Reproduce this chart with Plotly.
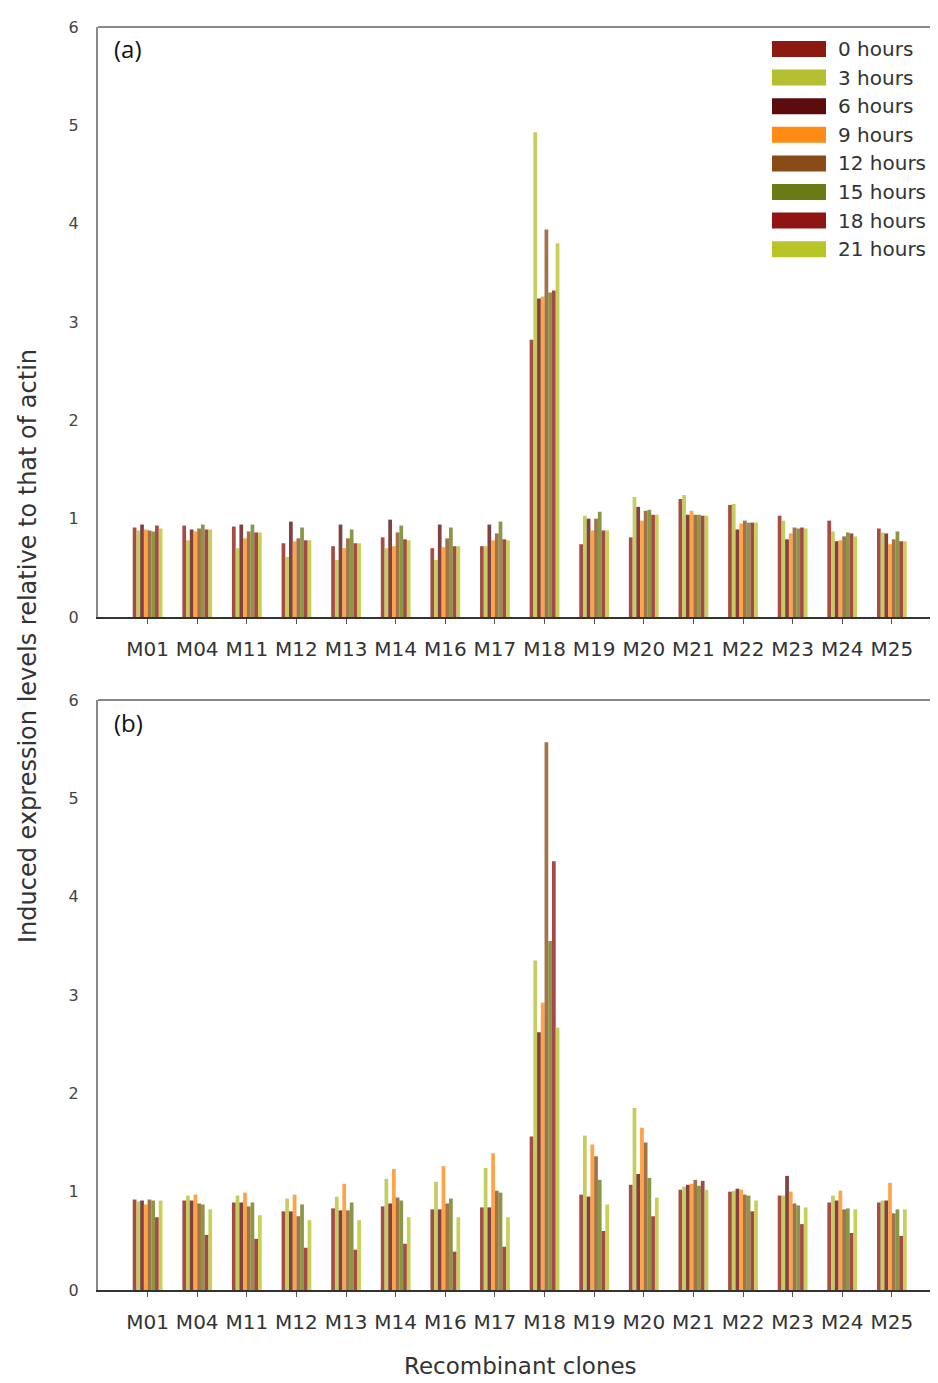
import plotly.graph_objects as go

CLONES = ["M01", "M04", "M11", "M12", "M13", "M14", "M16", "M17",
          "M18", "M19", "M20", "M21", "M22", "M23", "M24", "M25"]
SERIES = ["0 hours", "3 hours", "6 hours", "9 hours",
          "12 hours", "15 hours", "18 hours", "21 hours"]
COLORS = ["#8c1a10", "#b4c030", "#5c0c0c", "#ff8a14",
          "#8a4c16", "#6a7a14", "#901414", "#b8c428"]

# Panel (a)
A_H0 = [0.91, 0.93, 0.92, 0.75, 0.72, 0.81, 0.70, 0.72, 2.82, 0.74, 0.81, 1.20, 1.14, 1.03, 0.98, 0.90]
A_H3 = [0.88, 0.78, 0.70, 0.61, 0.58, 0.70, 0.58, 0.72, 4.93, 1.03, 1.22, 1.24, 1.15, 0.98, 0.87, 0.86]
A_H6 = [0.94, 0.89, 0.94, 0.97, 0.94, 0.99, 0.94, 0.94, 3.24, 1.00, 1.12, 1.04, 0.89, 0.79, 0.77, 0.85]
A_H9 = [0.89, 0.87, 0.80, 0.77, 0.70, 0.72, 0.71, 0.78, 3.26, 0.88, 0.98, 1.08, 0.95, 0.85, 0.78, 0.74]
A_H12 = [0.88, 0.90, 0.87, 0.80, 0.80, 0.86, 0.80, 0.85, 3.94, 1.00, 1.08, 1.04, 0.98, 0.91, 0.82, 0.79]
A_H15 = [0.87, 0.94, 0.94, 0.91, 0.89, 0.93, 0.91, 0.97, 3.30, 1.07, 1.09, 1.04, 0.96, 0.90, 0.86, 0.87]
A_H18 = [0.93, 0.89, 0.86, 0.78, 0.75, 0.79, 0.72, 0.79, 3.32, 0.88, 1.04, 1.03, 0.96, 0.91, 0.85, 0.77]
A_H21 = [0.90, 0.89, 0.86, 0.78, 0.75, 0.78, 0.72, 0.78, 3.80, 0.88, 1.04, 1.03, 0.96, 0.90, 0.82, 0.77]

# Panel (b)
B_H0 = [0.92, 0.91, 0.89, 0.80, 0.83, 0.85, 0.82, 0.84, 1.56, 0.97, 1.07, 1.02, 1.00, 0.96, 0.89, 0.89]
B_H3 = [0.90, 0.96, 0.96, 0.93, 0.95, 1.13, 1.10, 1.24, 3.35, 1.57, 1.85, 1.05, 1.01, 0.96, 0.96, 0.91]
B_H6 = [0.91, 0.91, 0.89, 0.80, 0.81, 0.88, 0.82, 0.84, 2.62, 0.95, 1.18, 1.07, 1.03, 1.16, 0.91, 0.91]
B_H9 = [0.87, 0.97, 0.99, 0.97, 1.08, 1.23, 1.26, 1.39, 2.92, 1.48, 1.65, 1.08, 1.02, 1.00, 1.01, 1.09]
B_H12 = [0.92, 0.88, 0.85, 0.75, 0.81, 0.94, 0.88, 1.01, 5.57, 1.36, 1.50, 1.12, 0.97, 0.88, 0.82, 0.78]
B_H15 = [0.91, 0.87, 0.89, 0.87, 0.89, 0.91, 0.93, 0.99, 3.55, 1.12, 1.14, 1.06, 0.96, 0.86, 0.83, 0.82]
B_H18 = [0.74, 0.56, 0.52, 0.43, 0.41, 0.47, 0.39, 0.44, 4.36, 0.60, 0.75, 1.11, 0.80, 0.67, 0.58, 0.55]
B_H21 = [0.91, 0.82, 0.76, 0.71, 0.71, 0.74, 0.74, 0.74, 2.67, 0.87, 0.94, 1.02, 0.91, 0.84, 0.82, 0.82]

Y_TICKS = [0, 1, 2, 3, 4, 5, 6]

PANEL_A = [A_H0, A_H3, A_H6, A_H9, A_H12, A_H15, A_H18, A_H21]
PANEL_B = [B_H0, B_H3, B_H6, B_H9, B_H12, B_H15, B_H18, B_H21]

FONT = "DejaVu Sans"
OFF = 8  # page body margin
W, H = 938 - OFF, 1383 - OFF
ML, MR, MT, MB = 98 - OFF, 0, 27 - OFF, H - (1290 - OFF)
PW = W - ML - MR
PH = H - MT - MB


def px_x(rx):
    return (rx - OFF - ML) / PW


def px_y(ry):
    return (H - MB - (ry - OFF)) / PH


fig = go.Figure()
for name, col, ya, yb in zip(SERIES, COLORS, PANEL_A, PANEL_B):
    fig.add_trace(go.Bar(x=CLONES, y=ya, name=name, marker=dict(color=col, line=dict(width=0)),
                         xaxis="x", yaxis="y", showlegend=False, opacity=0.78))
    fig.add_trace(go.Bar(x=CLONES, y=yb, name=name, marker=dict(color=col, line=dict(width=0)),
                         xaxis="x2", yaxis="y2", showlegend=False, opacity=0.78))

xcommon = dict(type="category", range=[-1.0, 15.93], showline=True, linecolor="#333333",
               linewidth=1.5, ticks="outside", ticklen=5, tickcolor="#555555",
               tickfont=dict(family=FONT, size=20, color="#333333"), showgrid=False,
               ticklabelstandoff=8, fixedrange=True)
ycommon = dict(range=[0, 6], tickvals=Y_TICKS, showline=True, linecolor="#888888", linewidth=2,
               ticks="", tickfont=dict(family=FONT, size=16, color="#444444"), showgrid=False,
               zeroline=False, ticklabelstandoff=14)

fig.update_layout(
    width=W, height=H, margin=dict(l=ML, r=MR, t=MT, b=MB),
    paper_bgcolor="white", plot_bgcolor="white",
    barmode="group", bargap=0.4, bargroupgap=0,
    xaxis=dict(domain=[0, 1], anchor="y", **xcommon),
    yaxis=dict(domain=[px_y(617), 1], anchor="x", **ycommon),
    xaxis2=dict(domain=[0, 1], anchor="y2", **xcommon),
    yaxis2=dict(domain=[0, px_y(700)], anchor="x2", **ycommon),
    showlegend=False,
)

shapes = []
annotations = []
# top border lines of both panels
for ytop in (27, 700):
    shapes.append(dict(type="line", xref="paper", yref="paper", x0=0, x1=1,
                       y0=px_y(ytop), y1=px_y(ytop), line=dict(color="#888888", width=2)))

# legend
for i, (name, col) in enumerate(zip(SERIES, COLORS)):
    yc = 49 + 28.6 * i
    shapes.append(dict(type="rect", xref="paper", yref="paper",
                       x0=px_x(772), x1=px_x(826), y0=px_y(yc + 8), y1=px_y(yc - 8),
                       fillcolor=col, line=dict(width=0)))
    annotations.append(dict(text=name, xref="paper", yref="paper", x=px_x(836), y=px_y(yc),
                            xanchor="left", yanchor="middle", showarrow=False,
                            font=dict(family=FONT, size=20, color="#333333")))

annotations += [
    dict(text="(a)", xref="paper", yref="paper", x=px_x(112), y=px_y(49), xanchor="left",
         yanchor="middle", showarrow=False, font=dict(family="Open Sans", size=24, color="#111111")),
    dict(text="(b)", xref="paper", yref="paper", x=px_x(112), y=px_y(722), xanchor="left",
         yanchor="middle", showarrow=False, font=dict(family="Open Sans", size=24, color="#111111")),
    dict(text="Induced expression levels relative to that of actin", xref="paper", yref="paper",
         x=px_x(28), y=px_y(646), xanchor="center", yanchor="middle", textangle=-90,
         showarrow=False, font=dict(family=FONT, size=24, color="#333333")),
    dict(text="Recombinant clones", xref="paper", yref="paper", x=px_x(520), y=px_y(1366),
         xanchor="center", yanchor="middle", showarrow=False,
         font=dict(family=FONT, size=23, color="#333333")),
]
fig.update_layout(shapes=shapes, annotations=annotations)

fig.write_html("out.html")
